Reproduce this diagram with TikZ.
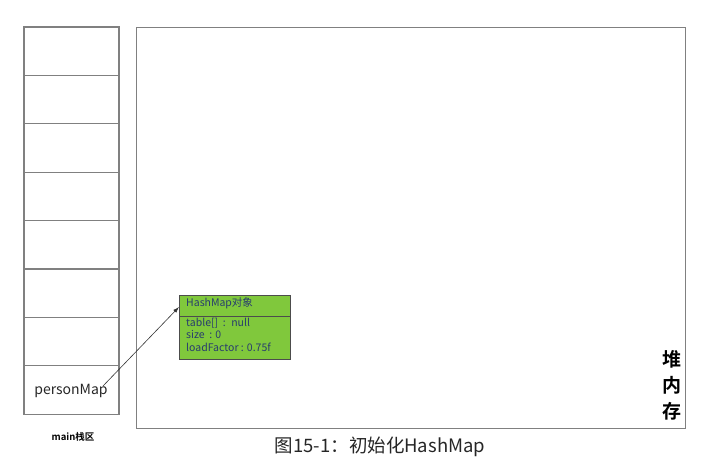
\documentclass[tikz,border=0pt]{standalone}
\usepackage{fontspec}
\setmainfont{Noto Sans CJK SC}
\newfontfamily\cjk{Noto Sans CJK SC}
\newfontfamily\cjkb{Noto Sans CJK SC Bold}
\usetikzlibrary{arrows.meta}
\definecolor{gridline}{RGB}{128,128,128}
\definecolor{hmgreen}{RGB}{128,200,60}
\definecolor{hmtext}{RGB}{40,60,110}
\begin{document}
\begin{tikzpicture}[x=1pt,y=-1pt,
  cell/.style={draw=gridline,line width=1.2pt},
  heap/.style={draw=gridline,line width=1pt},
  hm/.style={draw=black!70,fill=hmgreen,line width=0.8pt},
  hmtxt/.style={font=\fontsize{10.5}{12.5}\selectfont,text=hmtext,anchor=north west,inner sep=0pt,align=left},
  ptr/.style={draw=black!80,line width=0.6pt,-{Latex[length=6pt,width=4pt]}}]
\useasboundingbox (0,0) rectangle (705,463);
% stack
\foreach \i in {0,...,7}{
  \draw[cell] (24,{27+48.4*\i}) rectangle (119,{27+48.4*(\i+1)});
}
\node[font=\fontsize{14}{16}\selectfont,text=black!85] (pm) at (71,390.5) {personMap};
\node[font=\cjkb\fontsize{9.5}{11}\selectfont] (mainlbl) at (73,437) {main栈区};
% heap
\draw[heap] (136,27) rectangle (685,428);
\node[font=\cjkb\fontsize{19}{26}\selectfont,align=center,inner sep=0pt] (heaplbl) at (672,385) {堆\\内\\存};
% hashmap object
\draw[hm] (179,295) rectangle (290,359);
\draw[black!70,line width=0.8pt] (179,316.5) -- (290,316.5);
\node[hmtxt] (hmtitle) at (186,297.5) {HashMap对象};
\node[hmtxt] (hmbody) at (186,317.5) {table[] ~: ~null\\size ~: 0\\loadFactor : 0.75f};
\coordinate (hmin) at (179,307);
\coordinate (pmout) at (103,386);
\draw[ptr] (pmout) -- (hmin);
% caption
\node[font=\fontsize{18.5}{22}\selectfont,text=black!85] (cap) at (380,447) {图15-1：初始化HashMap};
\end{tikzpicture}
\end{document}
